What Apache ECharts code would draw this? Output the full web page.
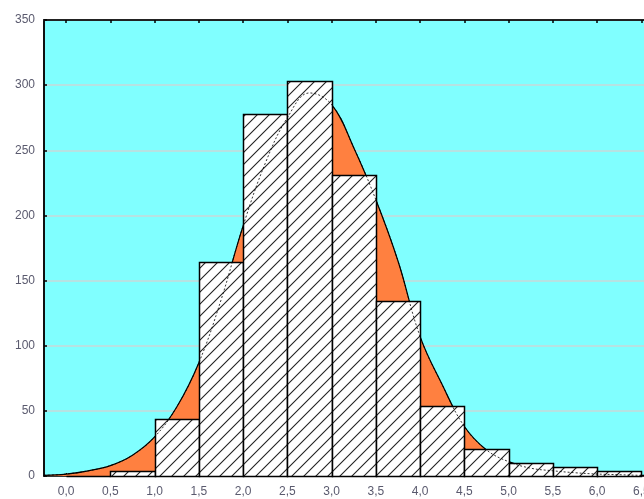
<!DOCTYPE html>
<html>
<head>
<meta charset="utf-8">
<script src="https://cdn.jsdelivr.net/npm/echarts@6/dist/echarts.min.js"></script>
<style>
html,body{margin:0;padding:0;background:#fff;overflow:hidden;}
#c{width:644px;height:499px;}
</style>
</head>
<body>
<div id="c"></div>
<script>
// Histogram bins (start, end) and counts
const binStarts = [0.0, 0.5, 1.0, 1.5, 2.0, 2.5, 3.0, 3.5, 4.0, 4.5, 5.0, 5.5, 6.0];
const binEnds   = [0.5, 1.0, 1.5, 2.0, 2.5, 3.0, 3.5, 4.0, 4.5, 5.0, 5.5, 6.0, 6.5];
const binCounts = [0, 4, 44, 164, 278, 303, 231, 134, 54, 21, 10, 7, 4];

// Fitted curve
const curveX = [-0.25, 0.0, 0.25, 0.5, 0.75, 1.0, 1.25, 1.5, 1.75, 2.0, 2.25, 2.5, 2.75, 3.0, 3.25, 3.5, 3.75, 4.0, 4.25, 4.5, 4.75, 5.0, 5.25, 5.5, 5.75, 6.0, 6.25, 6.5, 6.75];
const curveY = [0.5, 1.5, 4, 8, 16, 30, 53, 87, 135, 192, 240, 275, 294, 285, 252, 212, 165, 107, 70, 38, 20, 11, 6, 4, 2.5, 1.5, 1, 0.5, 0.3];

// Axis ticks
const xTicks = [0, 0.5, 1, 1.5, 2, 2.5, 3, 3.5, 4, 4.5, 5, 5.5, 6, 6.5];
const yMin = 0, yMax = 350, yStep = 50;

// hatch pattern
const tile = document.createElement('canvas');
const S = 12;
tile.width = S; tile.height = S;
const tc = tile.getContext('2d');
tc.fillStyle = '#fff';
tc.fillRect(0, 0, S, S);
tc.strokeStyle = '#222';
tc.lineWidth = 1.1;
tc.beginPath();
tc.moveTo(-1, S + 1); tc.lineTo(S + 1, -1);
tc.moveTo(-1, 1); tc.lineTo(1, -1);
tc.moveTo(S - 1, S + 1); tc.lineTo(S + 1, S - 1);
tc.stroke();
const hatch = { image: tile, repeat: 'repeat' };

const barData = binStarts.map((s, i) => [s, binEnds[i], binCounts[i]]);
const curveData = curveX.map((x, i) => [x, curveY[i]]);

const chart = echarts.init(document.getElementById('c'), null, { renderer: 'canvas' });
const fmt = v => v.toFixed(1).replace('.', ',');
const labelFont = { fontFamily: 'Liberation Sans, Arial', fontSize: 12, color: '#5a5a6e' };

chart.setOption({
  animation: false,
  grid: {
    left: 44, top: 20, height: 456, width: 619.5,
    outerBoundsMode: 'none', containLabel: false,
    show: true, backgroundColor: '#80FFFF', borderWidth: 0
  },
  xAxis: [{
    type: 'value', min: -0.25, max: 6.75, position: 'bottom',
    axisLine: { show: true, onZero: false, lineStyle: { color: '#000', width: 1.5 } },
    axisTick: { show: true, inside: true, length: 3, customValues: xTicks, lineStyle: { color: '#000' } },
    axisLabel: Object.assign({ customValues: xTicks, formatter: fmt, margin: 10 }, labelFont),
    splitLine: { show: false }
  }, {
    type: 'value', min: -0.25, max: 6.75, position: 'top',
    axisLine: { show: true, onZero: false, lineStyle: { color: '#222', width: 2 } },
    axisTick: { show: true, inside: true, length: 3, customValues: xTicks, lineStyle: { color: '#000', width: 1.5 } },
    axisLabel: { show: false },
    splitLine: { show: false }
  }],
  yAxis: {
    type: 'value', min: yMin, max: yMax, interval: yStep,
    axisLine: { show: true, onZero: false, lineStyle: { color: '#111', width: 2 } },
    axisTick: { show: true, inside: true, length: 3, lineStyle: { color: '#000', width: 1.5 } },
    axisLabel: Object.assign({ margin: 9 }, labelFont),
    splitLine: { show: true, lineStyle: { color: '#C8D8D8', width: 1.5 } }
  },
  series: [{
    type: 'line', data: curveData, smooth: 0.4, symbol: 'none', z: 2,
    lineStyle: { color: '#000', width: 1.2 },
    areaStyle: { color: '#FF8040', opacity: 1, origin: 'start' }
  }, {
    type: 'custom', z: 3, data: barData,
    renderItem: function (params, api) {
      const x0 = api.value(0), x1 = api.value(1), v = api.value(2);
      const p0 = api.coord([x0, v]);
      const p1 = api.coord([x1, 0]);
      return {
        type: 'rect',
        shape: { x: Math.round(p0[0]) + 0.5, y: Math.round(p0[1]) + 0.5, width: Math.round(p1[0]) - Math.round(p0[0]), height: Math.round(p1[1]) - Math.round(p0[1]) },
        style: { fill: hatch, stroke: '#000', lineWidth: 1.5 }
      };
    }
  }, {
    type: 'line', data: curveData, smooth: 0.4, symbol: 'none', z: 4,
    lineStyle: { color: '#000', width: 0.8, type: [2, 2] }
  }]
});
</script>
</body>
</html>
